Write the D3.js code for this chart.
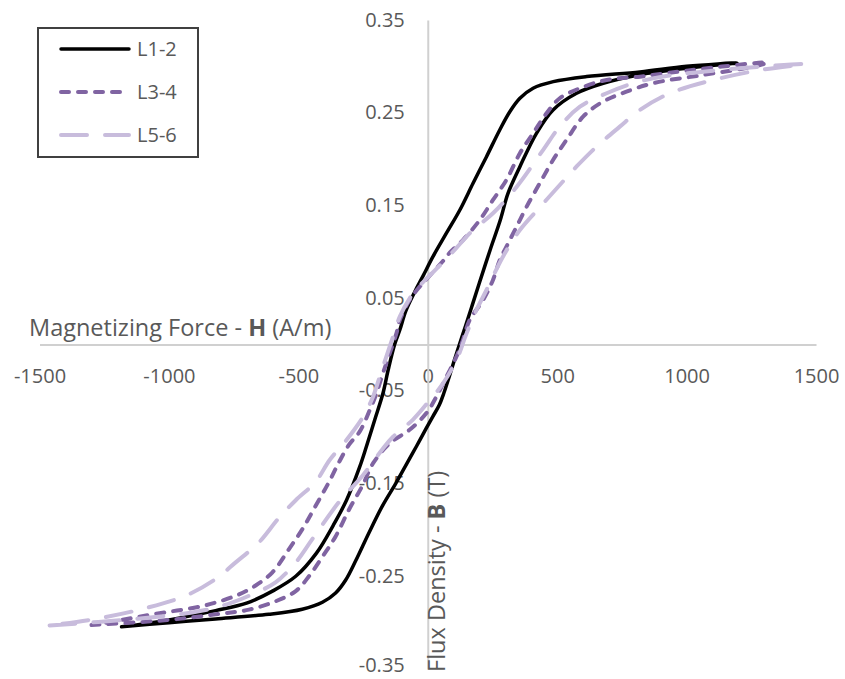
<!DOCTYPE html>
<html>
<head>
<meta charset="utf-8">
<script src="https://cdn.jsdelivr.net/npm/d3@7"></script>
<style>
  html, body { margin: 0; padding: 0; background: #fff; }
  text { font-family: "Open Sans", "DejaVu Sans", sans-serif; }
</style>
</head>
<body>
<svg id="chart" width="845" height="679"></svg>
<script>
// ---------- data ----------
const seriesNames = ["L1-2", "L3-4", "L5-6"];

const xTickValues = [-1500, -1000, -500, 0, 500, 1000, 1500];
const xTickLabels = ["-1500", "-1000", "-500", "0", "500", "1000", "1500"];
const yTickValues = [0.35, 0.25, 0.15, 0.05, -0.05, -0.15, -0.25, -0.35];
const yTickLabels = ["0.35", "0.25", "0.15", "0.05", "-0.05", "-0.15", "-0.25", "-0.35"];

// L1-2: ascending branch then descending branch (H in A/m, B in T)
const L12_H = [-1183, -1000, -820, -614, -485, -407, -356, -317, -278, -227, -175, -124, -82, -44, -5, 20, 45, 62, 83, 103, 124, 145, 170, 199, 241, 280, 310, 356, 420, 484, 575, 678, 820, 1000, 1195,
  1000, 820, 614, 485, 407, 356, 317, 278, 227, 175, 124, 72, 20, -18, -50, -85, -108, -128, -153, -173, -205, -237, -263, -314, -365, -430, -510, -600, -700, -820, -1000, -1183];
const L12_B = [-0.3045, -0.300, -0.296, -0.291, -0.2855, -0.278, -0.268, -0.254, -0.233, -0.203, -0.174, -0.150, -0.129, -0.110, -0.090, -0.0775, -0.065, -0.0526, -0.0347, -0.0167, 0.0013, 0.0192, 0.0408, 0.066, 0.102, 0.134, 0.163, 0.1918, 0.2278, 0.253, 0.271, 0.2818, 0.291, 0.298, 0.3037,
  0.300, 0.294, 0.289, 0.2835, 0.2764, 0.2656, 0.2511, 0.2314, 0.2026, 0.1739, 0.1451, 0.120, 0.0947, 0.0740, 0.057, 0.036, 0.0156, 0.000, -0.0275, -0.0526, -0.0814, -0.110, -0.132, -0.168, -0.195, -0.225, -0.250, -0.266, -0.279, -0.287, -0.297, -0.3045];

// L3-4
const L34_H = [-1299, -1000, -820, -691, -588, -510, -459, -407, -356, -304, -252, -211, -147, -70, -5, 34, 72, 111, 136, 162, 214, 252, 278, 304, 343, 382, 433, 484, 536, 600, 665, 742, 870, 1063, 1257, 1311,
  1000, 820, 691, 588, 510, 459, 407, 356, 304, 252, 201, 136, 85, 59, -1, -31, -70, -108, -121, -147, -173, -198, -224, -263, -304, -343, -382, -433, -484, -536, -600, -665, -742, -870, -1063, -1200, -1299];
const L34_B = [-0.3026, -0.297, -0.291, -0.286, -0.277, -0.266, -0.250, -0.229, -0.207, -0.178, -0.152, -0.128, -0.1066, -0.092, -0.074, -0.056, -0.035, -0.013, 0.005, 0.0264, 0.048, 0.0696, 0.091, 0.1055, 0.127, 0.1486, 0.174, 0.199, 0.2206, 0.2457, 0.260, 0.270, 0.2818, 0.2907, 0.2997, 0.304,
  0.2954, 0.2889, 0.2853, 0.2764, 0.2656, 0.2494, 0.2278, 0.2063, 0.1775, 0.1559, 0.1343, 0.1127, 0.099, 0.090, 0.0717, 0.0624, 0.048, 0.0264, 0.012, -0.0095, -0.031, -0.0526, -0.0707, -0.094, -0.108, -0.127, -0.1486, -0.174, -0.199, -0.2206, -0.2457, -0.260, -0.271, -0.282, -0.291, -0.298, -0.3026];

// L5-6
const L56_H = [-1461, -1129, -910, -794, -691, -588, -510, -446, -343, -252, -175, -134, -57, 8, 59, 111, 150, 188, 227, 291, 356, 433, 510, 575, 652, 742, 820, 936, 1103, 1283, 1457,
  1129, 910, 794, 691, 588, 510, 446, 343, 252, 175, 110, 46, -5, -57, -108, -134, -160, -186, -211, -250, -314, -379, -433, -510, -575, -652, -742, -820, -936, -1103, -1283, -1461];
const L56_B = [-0.303, -0.296, -0.289, -0.2818, -0.271, -0.2565, -0.235, -0.210, -0.170, -0.1415, -0.113, -0.0995, -0.081, -0.060, -0.042, -0.0167, 0.012, 0.0372, 0.0588, 0.095, 0.1235, 0.148, 0.172, 0.192, 0.2134, 0.235, 0.253, 0.271, 0.2853, 0.296, 0.3026,
  0.296, 0.289, 0.2818, 0.271, 0.2565, 0.235, 0.210, 0.170, 0.1415, 0.1235, 0.104, 0.085, 0.071, 0.055, 0.030, 0.0084, -0.013, -0.035, -0.056, -0.078, -0.103, -0.1246, -0.148, -0.168, -0.187, -0.2134, -0.235, -0.253, -0.271, -0.2853, -0.296, -0.303];

const seriesH = [L12_H, L34_H, L56_H];
const seriesB = [L12_B, L34_B, L56_B];

// ---------- styles ----------
const colors = ["#000000", "#8064a2", "#c8bcdc"];
const widths = [3.5, 4, 4];
const dashes = [null, "8,9", "26,18"];
const textColor = "#595959";
const axisColor = "#d0d0d0";

// ---------- scales ----------
const svg = d3.select("#chart");
const x = d3.scaleLinear().domain([-1500, 1500]).range([39.5, 816]);
const y = d3.scaleLinear().domain([-0.35, 0.35]).range([669, 20]);

// ---------- axes ----------
const xAxis = svg.append("g")
  .attr("transform", `translate(0,${y(0)})`)
  .call(d3.axisBottom(x).tickValues(xTickValues).tickSize(0).tickSizeOuter(0)
    .tickFormat((d, i) => xTickLabels[i]));
xAxis.select(".domain").attr("stroke", axisColor).attr("stroke-width", 2);
xAxis.selectAll("text").attr("y", 31).attr("dy", "0.35em")
  .attr("font-size", 20).attr("fill", textColor).attr("font-family", "Open Sans");

const yAxis = svg.append("g")
  .attr("transform", `translate(${x(0)},0)`)
  .call(d3.axisLeft(y).tickValues(yTickValues).tickSize(0).tickSizeOuter(0)
    .tickFormat((d, i) => yTickLabels[i]));
yAxis.select(".domain").attr("stroke", axisColor).attr("stroke-width", 2);
yAxis.selectAll("text").attr("x", -23).attr("dy", (d, i) => i === yTickValues.length - 1 ? "0.12em" : "0.3em")
  .attr("font-size", 20).attr("fill", textColor).attr("font-family", "Open Sans");

// axis titles
const xt = svg.append("text").attr("x", 29).attr("y", 336)
  .attr("font-size", 23.5).attr("fill", textColor);
xt.append("tspan").text("Magnetizing Force - ");
xt.append("tspan").attr("font-weight", "bold").text("H");
xt.append("tspan").text(" (A/m)");

const yt = svg.append("text").attr("transform", "translate(445,672) rotate(-90)")
  .attr("font-size", 23.5).attr("fill", textColor);
yt.append("tspan").text("Flux Density - ");
yt.append("tspan").attr("font-weight", "bold").text("B");
yt.append("tspan").text(" (T)");

// ---------- lines ----------
const line = d3.line().x(d => x(d[0])).y(d => y(d[1])).curve(d3.curveCatmullRom.alpha(0.5));
seriesNames.forEach((name, i) => {
  const pts = seriesH[i].map((h, j) => [h, seriesB[i][j]]);
  svg.append("path")
    .datum(pts)
    .attr("d", line)
    .attr("fill", "none")
    .attr("stroke", colors[i])
    .attr("stroke-width", widths[i])
    .attr("stroke-linecap", "round")
    .attr("stroke-linejoin", "round")
    .attr("stroke-dasharray", dashes[i]);
});

// ---------- legend ----------
const lg = svg.append("g");
lg.append("rect").attr("x", 38).attr("y", 28).attr("width", 160).attr("height", 129)
  .attr("fill", "#fff").attr("stroke", "#404040").attr("stroke-width", 2);
seriesNames.forEach((name, i) => {
  const ly = 49 + i * 43;
  lg.append("line").attr("x1", 61).attr("x2", 129).attr("y1", ly).attr("y2", ly)
    .attr("stroke", colors[i]).attr("stroke-width", widths[i])
    .attr("stroke-linecap", "round").attr("stroke-dasharray", dashes[i]);
  lg.append("text").attr("x", 137).attr("y", ly).attr("dy", "0.35em")
    .attr("font-size", 20).attr("fill", textColor).text(name);
});
</script>
</body>
</html>
